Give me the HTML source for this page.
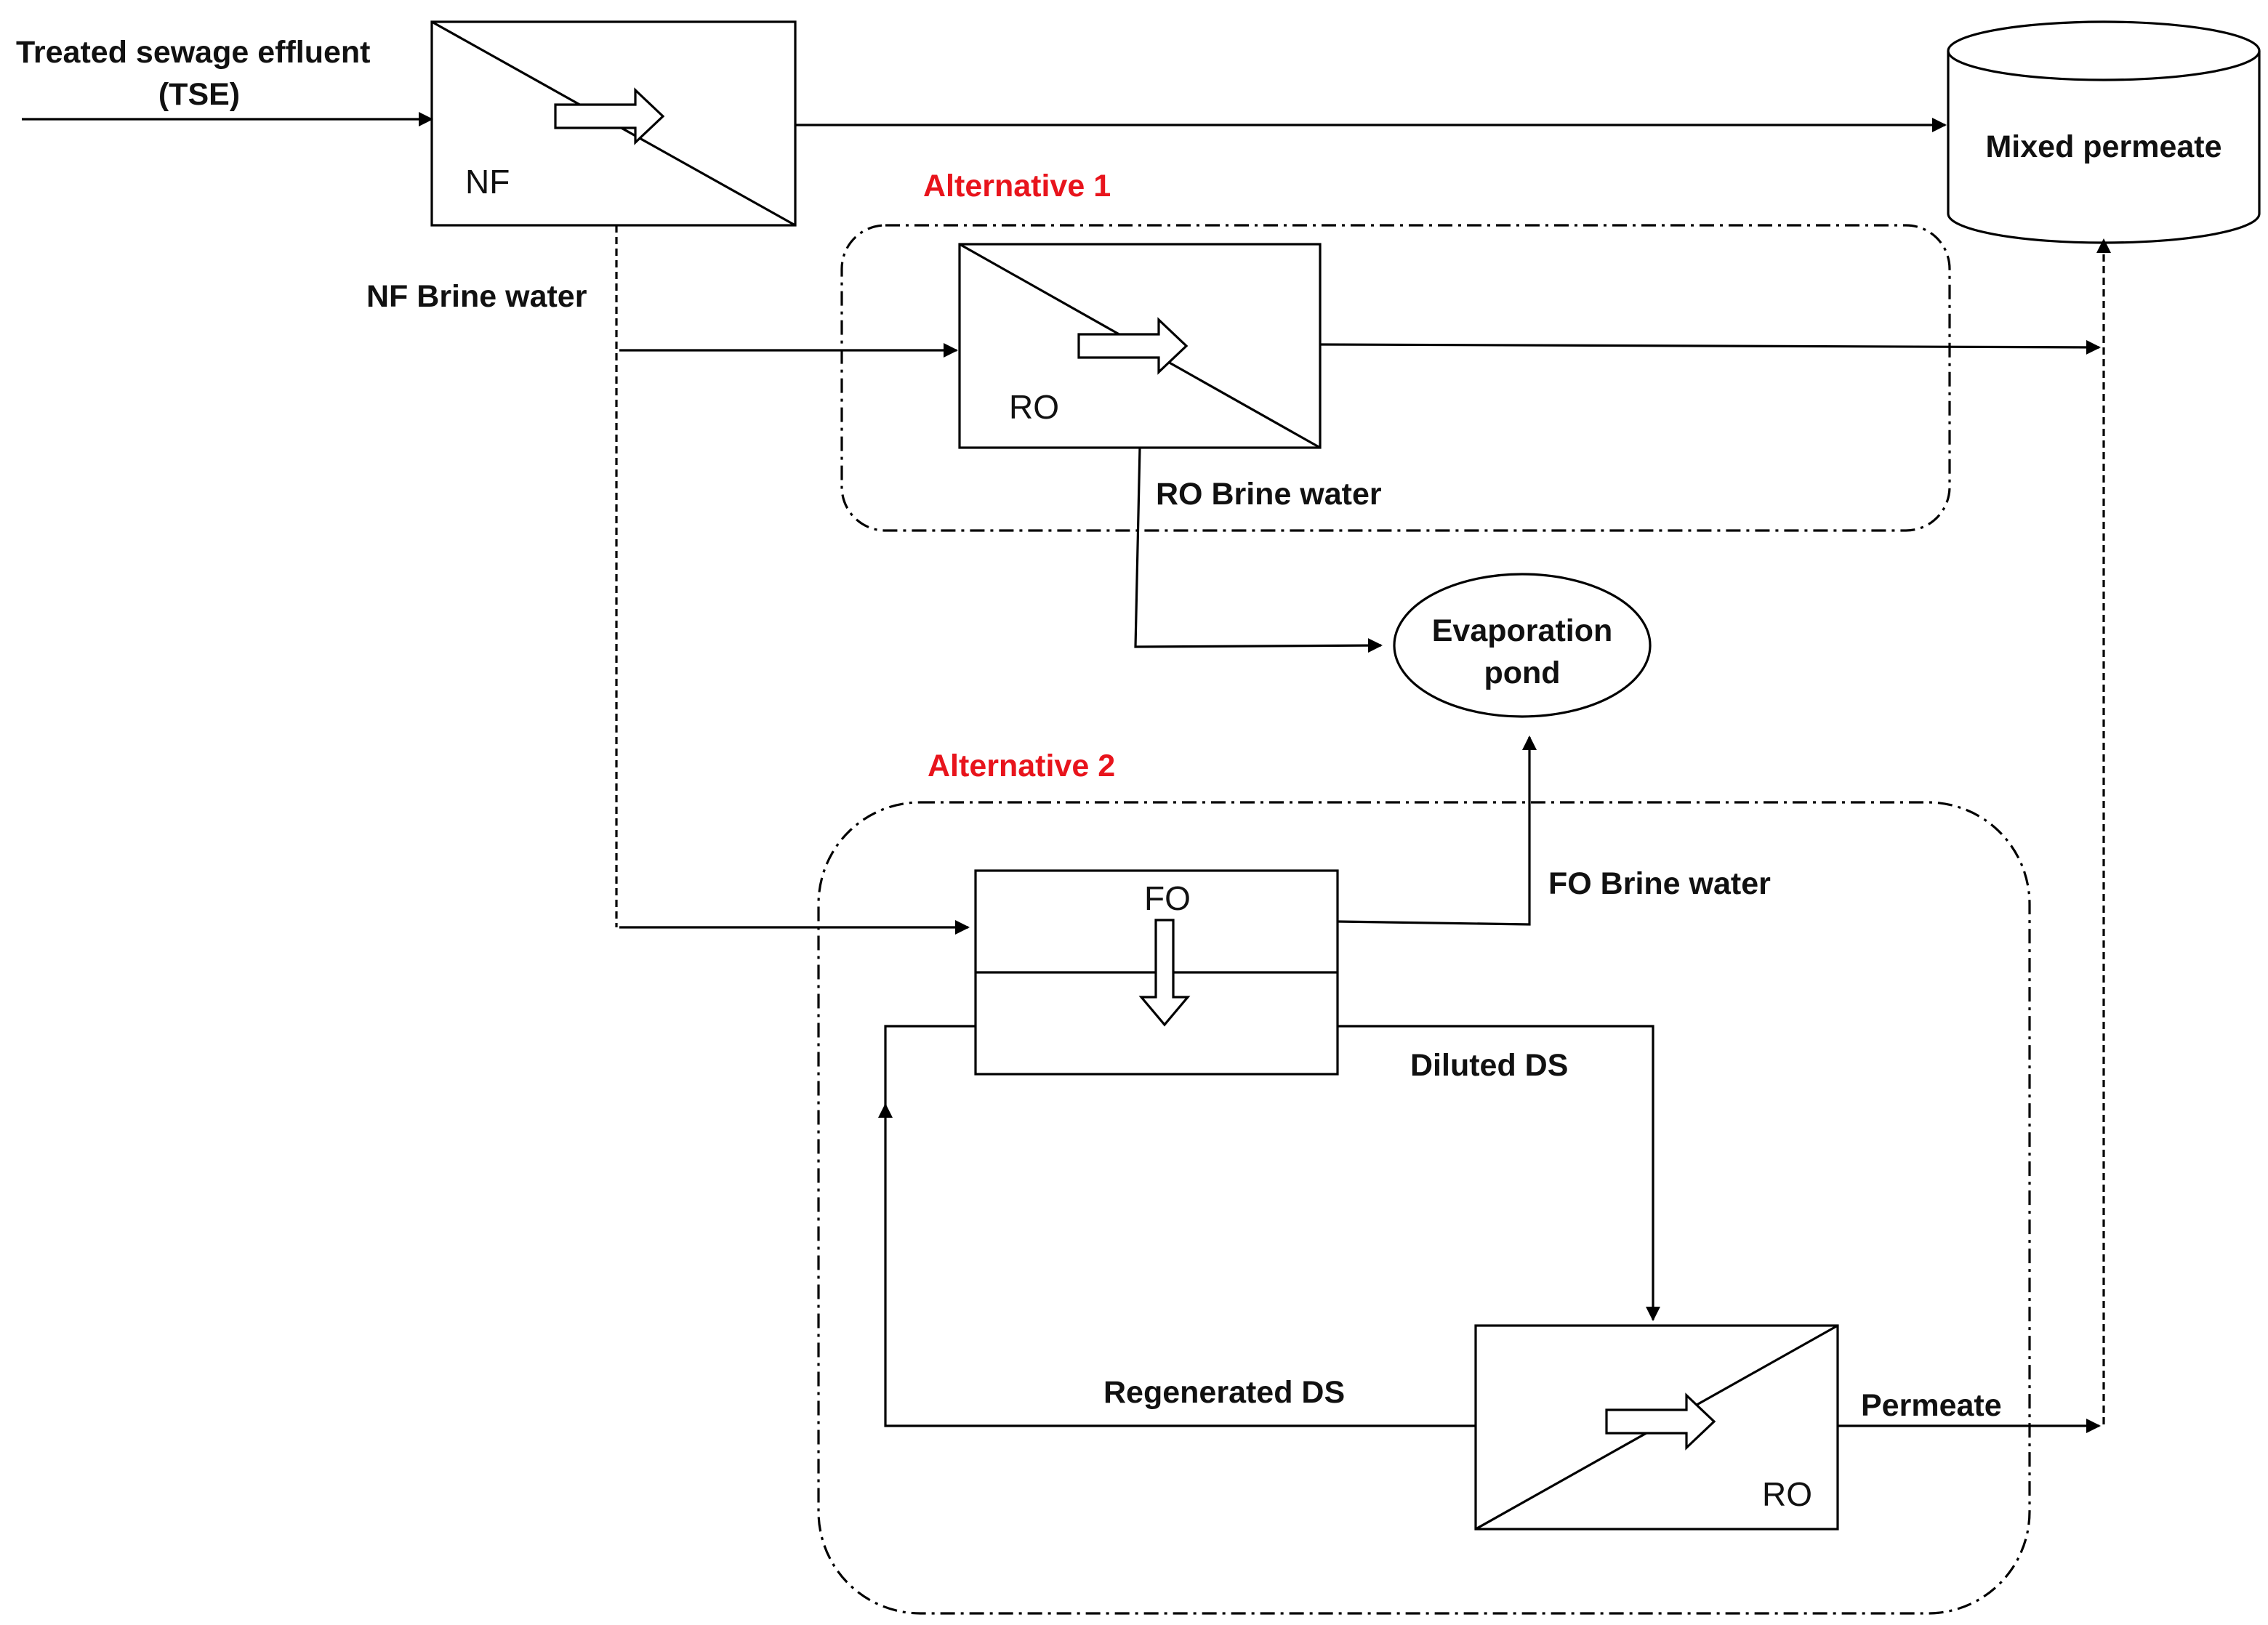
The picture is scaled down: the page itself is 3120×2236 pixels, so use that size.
<!DOCTYPE html>
<html><head><meta charset="utf-8"><style>
html,body{margin:0;padding:0;background:#fff;}
svg{display:block;}
text{font-family:"Liberation Sans",sans-serif;}
.b{font-weight:bold;font-size:21.5px;fill:#111;}
.r{font-weight:bold;font-size:21.5px;fill:#e8141c;}
.n{font-size:23px;fill:#111;}
</style></head><body>
<svg width="3120" height="2236" viewBox="0 0 1560 1118" xmlns="http://www.w3.org/2000/svg">
<defs>
<marker id="a" markerWidth="10" markerHeight="10" refX="9" refY="5" orient="auto" markerUnits="userSpaceOnUse">
<path d="M0,0 L10,5 L0,10 z" fill="#000"/></marker>
</defs>
<g stroke="#000" stroke-width="1.6" fill="none">
<line x1="15" y1="82" x2="297" y2="82" marker-end="url(#a)"/>
<rect x="297" y="15" width="250" height="140"/>
<line x1="297" y1="15" x2="547" y2="155"/>
<path d="M382,72 h55 v-10 l19,18 l-19,18 v-10 h-55 z" fill="#fff"/>
<line x1="547" y1="86" x2="1338" y2="86" marker-end="url(#a)"/>
<path d="M1340,35 v112 a107,20 0 0 0 214,0 v-112" fill="#fff"/>
<ellipse cx="1447" cy="35" rx="107" ry="20" fill="#fff"/>
<rect x="579" y="155" width="762" height="210" rx="30" stroke-dasharray="10,4,2,4"/>
<line x1="424" y1="155" x2="424" y2="638" stroke-dasharray="5,3"/>
<line x1="426" y1="241" x2="658" y2="241" marker-end="url(#a)"/>
<rect x="660" y="168" width="248" height="140"/>
<line x1="660" y1="168" x2="908" y2="308"/>
<path d="M742,230 h55 v-10 l19,18 l-19,18 v-10 h-55 z" fill="#fff"/>
<line x1="908" y1="237" x2="1444" y2="239" marker-end="url(#a)"/>
<line x1="1447" y1="980" x2="1447" y2="165" stroke-dasharray="5,3" marker-end="url(#a)"/>
<polyline points="784,308 781,445 950,444" marker-end="url(#a)"/>
<ellipse cx="1047" cy="444" rx="88" ry="49"/>
<rect x="563" y="552" width="833" height="558" rx="70" stroke-dasharray="10,4,2,4"/>
<line x1="426" y1="638" x2="666" y2="638" marker-end="url(#a)"/>
<rect x="671" y="599" width="249" height="140" fill="#fff"/>
<line x1="671" y1="669" x2="920" y2="669"/>
<path d="M795,633 h12 v53 h10 l-16,19 l-16,-19 h10 z" fill="#fff"/>
<polyline points="920,634 1052,636 1052,507" marker-end="url(#a)"/>
<polyline points="920,706 1137,706 1137,908" marker-end="url(#a)"/>
<polyline points="671,706 609,706 609,762"/>
<polyline points="1015,981 609,981 609,760" marker-end="url(#a)"/>
<rect x="1015" y="912" width="249" height="140" fill="#fff"/>
<line x1="1015" y1="1052" x2="1264" y2="912"/>
<path d="M1105,970 h55 v-10 l19,18 l-19,18 v-10 h-55 z" fill="#fff"/>
<line x1="1264" y1="981" x2="1444" y2="981" marker-end="url(#a)"/>
</g>
<text class="b" x="11" y="43">Treated sewage effluent</text>
<text class="b" x="137" y="72" text-anchor="middle">(TSE)</text>
<text class="n" x="320" y="133">NF</text>
<text class="b" x="1447" y="108" text-anchor="middle">Mixed permeate</text>
<text class="r" x="635" y="135">Alternative 1</text>
<text class="b" x="252" y="211">NF Brine water</text>
<text class="n" x="694" y="288">RO</text>
<text class="b" x="795" y="347">RO Brine water</text>
<text class="b" x="1047" y="441" text-anchor="middle">Evaporation</text>
<text class="b" x="1047" y="470" text-anchor="middle">pond</text>
<text class="r" x="638" y="534">Alternative 2</text>
<text class="n" x="803" y="626" text-anchor="middle">FO</text>
<text class="b" x="1065" y="615">FO Brine water</text>
<text class="b" x="970" y="740">Diluted DS</text>
<text class="b" x="759" y="965">Regenerated DS</text>
<text class="b" x="1280" y="974">Permeate</text>
<text class="n" x="1212" y="1036">RO</text>
</svg>
</body></html>
